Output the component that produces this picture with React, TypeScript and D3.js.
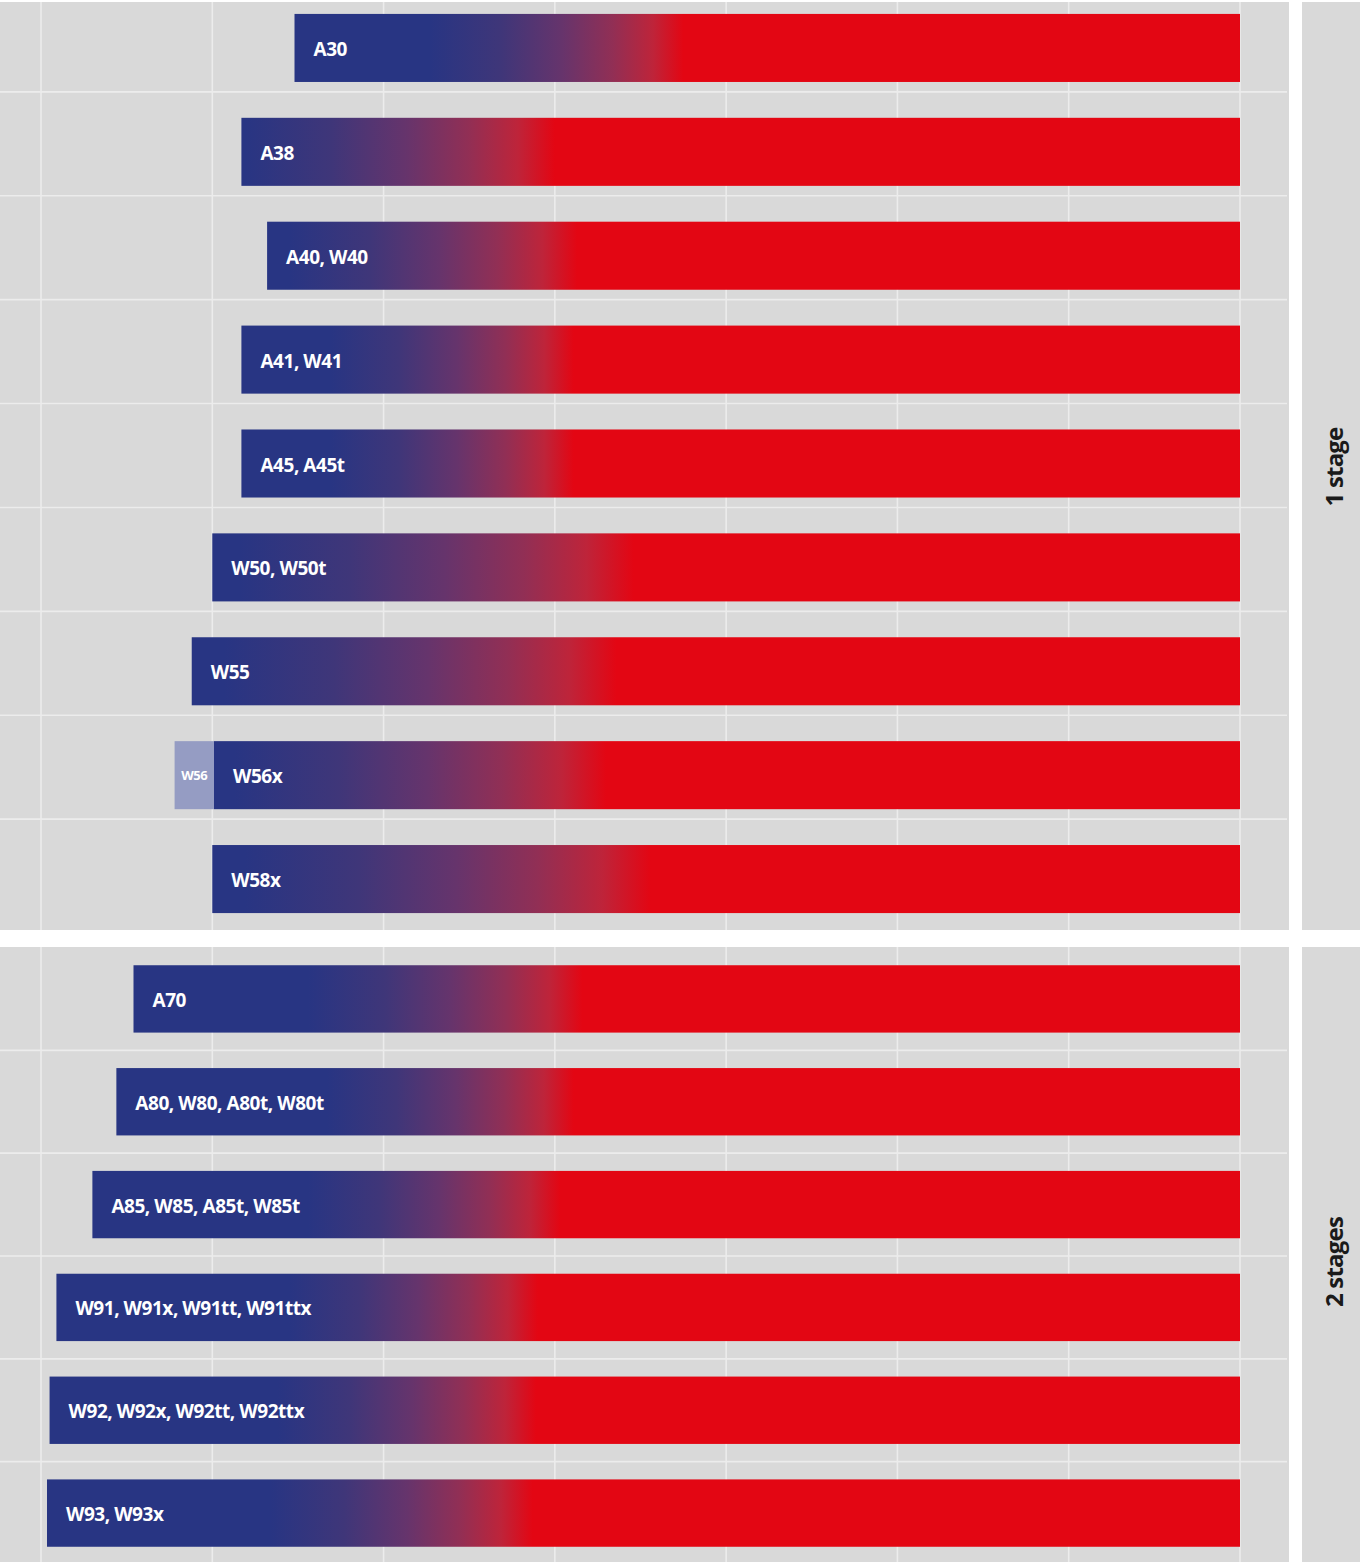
import React, { useEffect } from 'react';
import * as d3 from 'd3';

// values on the horizontal axis (0..70, one grid line every 10)
const xTicks = [0, 10, 20, 30, 40, 50, 60, 70];

const oneStageModels = ['A30', 'A38', 'A40, W40', 'A41, W41', 'A45, A45t', 'W50, W50t', 'W55', 'W56x', 'W58x'];
const oneStageStart = [14.8, 11.7, 13.2, 11.7, 11.7, 10.0, 8.8, 10.1, 10.0];
const oneStageEnd = [70, 70, 70, 70, 70, 70, 70, 70, 70];
const oneStageBlueEnd = [22.7, 11.9, 14.5, 16.9, 16.9, 11.6, 10.7, 11.3, 11.9];
const oneStageRedStart = [37.5, 30.0, 31.3, 31.1, 31.1, 34.6, 33.6, 33.0, 35.6];

const twoStageModels = ['A70', 'A80, W80, A80t, W80t', 'A85, W85, A85t, W85t', 'W91, W91x, W91tt, W91ttx', 'W92, W92x, W92tt, W92ttx', 'W93, W93x'];
const twoStageStart = [5.4, 4.4, 3.0, 0.9, 0.5, 0.35];
const twoStageEnd = [70, 70, 70, 70, 70, 70];
const twoStageBlueEnd = [15.6, 16.7, 15.6, 14.5, 13.8, 13.4];
const twoStageRedStart = [31.6, 31.1, 30.3, 29.0, 28.9, 28.7];

// extra range shown in front of a bar
const extraFor = ['W56x'];
const extraLabel = ['W56'];
const extraStart = [7.8];

const width = 1360;
const height = 1562;
const plotLeft = 0;
const plotRight = 1289;
const stripLeft = 1302;
const stripRight = 1360;
const panelFill = '#d9d9d9';
const gridColor = '#ececec';
const blue = '#283583';
const red = '#e30613';

const x = d3.scaleLinear().domain([0, 70]).range([41, 1240]);

interface Panel {
  key: string;
  strip: string;
  models: string[];
  start: number[];
  end: number[];
  blueEnd: number[];
  redStart: number[];
  top: number;
  bottom: number;
  bandTop: number;
  bandBottom: number;
  gridShift: number;
  stripY: number;
}

const panels: Panel[] = [
  {
    key: 'one',
    strip: '1 stage',
    models: oneStageModels,
    start: oneStageStart,
    end: oneStageEnd,
    blueEnd: oneStageBlueEnd,
    redStart: oneStageRedStart,
    top: 2,
    bottom: 930,
    bandTop: -4,
    bandBottom: 931,
    gridShift: -8,
    stripY: 467,
  },
  {
    key: 'two',
    strip: '2 stages',
    models: twoStageModels,
    start: twoStageStart,
    end: twoStageEnd,
    blueEnd: twoStageBlueEnd,
    redStart: twoStageRedStart,
    top: 947,
    bottom: 1562,
    bandTop: 947.5,
    bandBottom: 1564.5,
    gridShift: 0,
    stripY: 1262,
  },
];

const labelFont = '"Open Sans", "Noto Sans", sans-serif';

export default function App() {
  useEffect(() => {
    document.body.style.margin = '0';
  }, []);

  return (
    <svg width={width} height={height} style={{ display: 'block', background: '#fff' }}>
      <defs>
        {panels.map((p) =>
          p.models.map((m, i) => (
            <linearGradient
              key={`g-${p.key}-${i}`}
              id={`grad-${p.key}-${i}`}
              gradientUnits="userSpaceOnUse"
              x1={x(p.blueEnd[i])}
              x2={x(p.redStart[i])}
              y1={0}
              y2={0}
            >
              <stop offset="0%" stopColor={blue} />
              <stop offset="28%" stopColor="#3f3679" />
              <stop offset="52%" stopColor="#66346c" />
              <stop offset="72%" stopColor="#912f55" />
              <stop offset="88%" stopColor="#be243a" />
              <stop offset="100%" stopColor={red} />
            </linearGradient>
          ))
        )}
      </defs>

      {panels.map((p) => {
        const y = d3
          .scaleBand<string>()
          .domain(p.models)
          .range([p.bandTop, p.bandBottom])
          .paddingInner(0.345)
          .paddingOuter(0.1725);
        const gap = y.step() - y.bandwidth();
        const rowLines = p.models.slice(1).map((m) => (y(m) ?? 0) - gap / 2 + p.gridShift);

        return (
          <g key={p.key}>
            <rect x={plotLeft} y={p.top} width={plotRight - plotLeft} height={p.bottom - p.top} fill={panelFill} />

            {/* grid */}
            {rowLines.map((ly, i) => (
              <line key={`h-${i}`} x1={plotLeft} x2={plotRight - 2} y1={ly} y2={ly} stroke={gridColor} strokeWidth={1.6} />
            ))}
            {xTicks.map((t) => (
              <line key={`v-${t}`} x1={x(t)} x2={x(t)} y1={p.top} y2={p.bottom} stroke={gridColor} strokeWidth={1.6} />
            ))}

            {/* bars */}
            {p.models.map((m, i) => {
              const by = y(m) ?? 0;
              const bh = y.bandwidth();
              const x0 = x(p.start[i]);
              const x1 = x(p.end[i]);
              const k = extraFor.indexOf(m);
              return (
                <g key={`bar-${m}`}>
                  {k >= 0 && (
                    <g>
                      <rect x={x(extraStart[k])} y={by} width={x0 - x(extraStart[k])} height={bh} fill="#959cc3" />
                      <text
                        x={(x(extraStart[k]) + x0) / 2}
                        y={by + bh / 2}
                        fill="#fff"
                        fontSize={13}
                        fontWeight={700}
                        fontFamily={labelFont}
                        textAnchor="middle"
                        dominantBaseline="central"
                        letterSpacing={-0.4}
                      >
                        {extraLabel[k]}
                      </text>
                    </g>
                  )}
                  <rect x={x0} y={by} width={x1 - x0} height={bh} fill={`url(#grad-${p.key}-${i})`} />
                  <text
                    x={x0 + 19}
                    y={by + bh / 2 + 1}
                    fill="#fff"
                    fontSize={19}
                    fontWeight={700}
                    fontFamily={labelFont}
                    dominantBaseline="central"
                    letterSpacing={-0.45}
                  >
                    {m}
                  </text>
                </g>
              );
            })}

            {/* facet strip */}
            <rect x={stripLeft} y={p.top} width={stripRight - stripLeft} height={p.bottom - p.top} fill={panelFill} />
            <text
              transform={`translate(${(stripLeft + stripRight) / 2 + 2},${p.stripY}) rotate(-90)`}
              fill="#1a1a1a"
              fontSize={24}
              fontWeight={700}
              fontFamily={labelFont}
              textAnchor="middle"
              dominantBaseline="central"
              letterSpacing={-0.8}
            >
              {p.strip}
            </text>
          </g>
        );
      })}
    </svg>
  );
}
